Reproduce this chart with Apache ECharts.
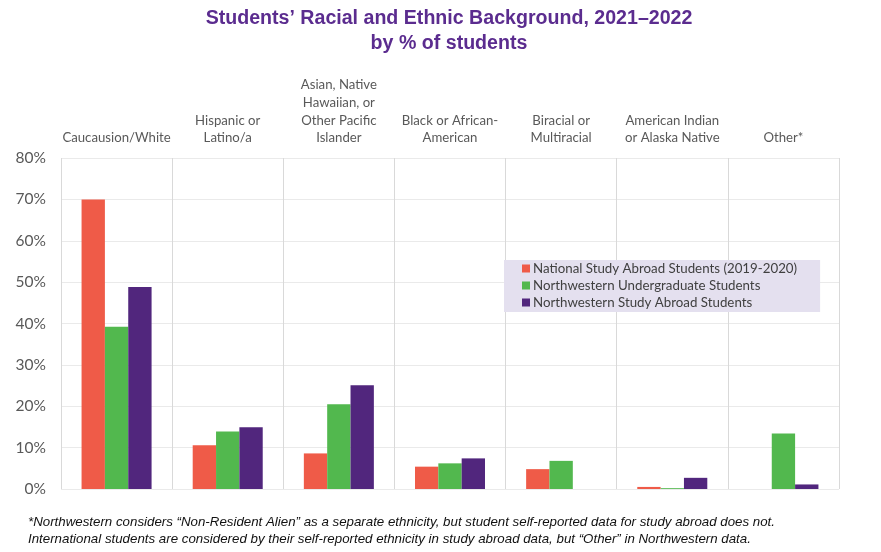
<!DOCTYPE html>
<html><head><meta charset="utf-8">
<script src="https://cdn.jsdelivr.net/npm/echarts@6/dist/echarts.min.js"></script>
<style>html,body{margin:0;padding:0;background:#fff}#c{width:881px;height:552px}</style>
</head><body><div id="c"></div>
<script>
const categories = ["Caucausion/White","Hispanic or\nLatino/a","Asian, Native\nHawaiian, or\nOther Pacific\nIslander","Black or African-\nAmerican","Biracial or\nMultiracial","American Indian\nor Alaska Native","Other*"];
const seriesNames = ["National Study Abroad Students (2019-2020)","Northwestern Undergraduate Students","Northwestern Study Abroad Students"];
const nationalStudyAbroad = [70, 10.6, 8.6, 5.4, 4.8, 0.5, 0];
const nwUndergrad = [39.2, 13.9, 20.5, 6.2, 6.8, 0.2, 13.4];
const nwStudyAbroad = [48.8, 14.9, 25.1, 7.4, 0, 2.7, 1.1];
const yTicks = [0, 10, 20, 30, 40, 50, 60, 70, 80];
const colors = ["#EF5B48", "#52B84E", "#51267D"];
const values = [nationalStudyAbroad, nwUndergrad, nwStudyAbroad];

const chart = echarts.init(document.getElementById('c'));
chart.setOption({
  animation: false,
  title: {
    text: "Students’ Racial and Ethnic Background, 2021–2022\nby % of students",
    left: 444, top: 1, textAlign: 'center',
    textStyle: {fontFamily: 'Liberation Sans', fontSize: 19.6, fontWeight: 'bold', color: '#5B2C8F', lineHeight: 25}
  },
  legend: {
    orient: 'vertical', left: 504, top: 260, width: 316,
    backgroundColor: '#E4E0EF', padding: [2, 23, 3, 18], itemGap: 4,
    itemWidth: 8, itemHeight: 8, icon: 'rect',
    textStyle: {fontFamily: 'Lato', fontSize: 13.3, color: '#404040', padding: [0, 60, 0, -2]},
    data: seriesNames
  },
  grid: {left: 61, right: 42, top: 158, bottom: 63},
  xAxis: {
    type: 'category', position: 'top', data: categories,
    axisLine: {show: false}, axisTick: {show: false},
    axisLabel: {interval: 0, margin: 11, fontFamily: 'Lato', fontSize: 13.2, color: '#595959', lineHeight: 17.7},
    splitLine: {show: true, interval: 0, lineStyle: {color: '#D9D9D9', width: 1}}
  },
  yAxis: {
    type: 'value', min: 0, max: 80, interval: 10,
    axisLine: {show: false}, axisTick: {show: false},
    axisLabel: {formatter: v => yTicks.includes(v) ? v + '%' : '', fontFamily: 'Lato', fontSize: 15.5, color: '#595959', margin: 15},
    splitLine: {lineStyle: {color: '#EAEAEA', width: 1}}
  },
  series: seriesNames.map((n, i) => ({
    name: n, type: 'bar', data: values[i], barGap: '0%', barCategoryGap: '37%',
    itemStyle: {color: colors[i]}
  })),
  graphic: [{
    type: 'text', left: 28, top: 514,
    style: {text: "*Northwestern considers “Non-Resident Alien” as a separate ethnicity, but student self-reported data for study abroad does not.\nInternational students are considered by their self-reported ethnicity in study abroad data, but “Other” in Northwestern data.",
      font: 'italic 13.3px "Liberation Sans"', fill: '#111', lineHeight: 17}
  }]
});
</script></body></html>
